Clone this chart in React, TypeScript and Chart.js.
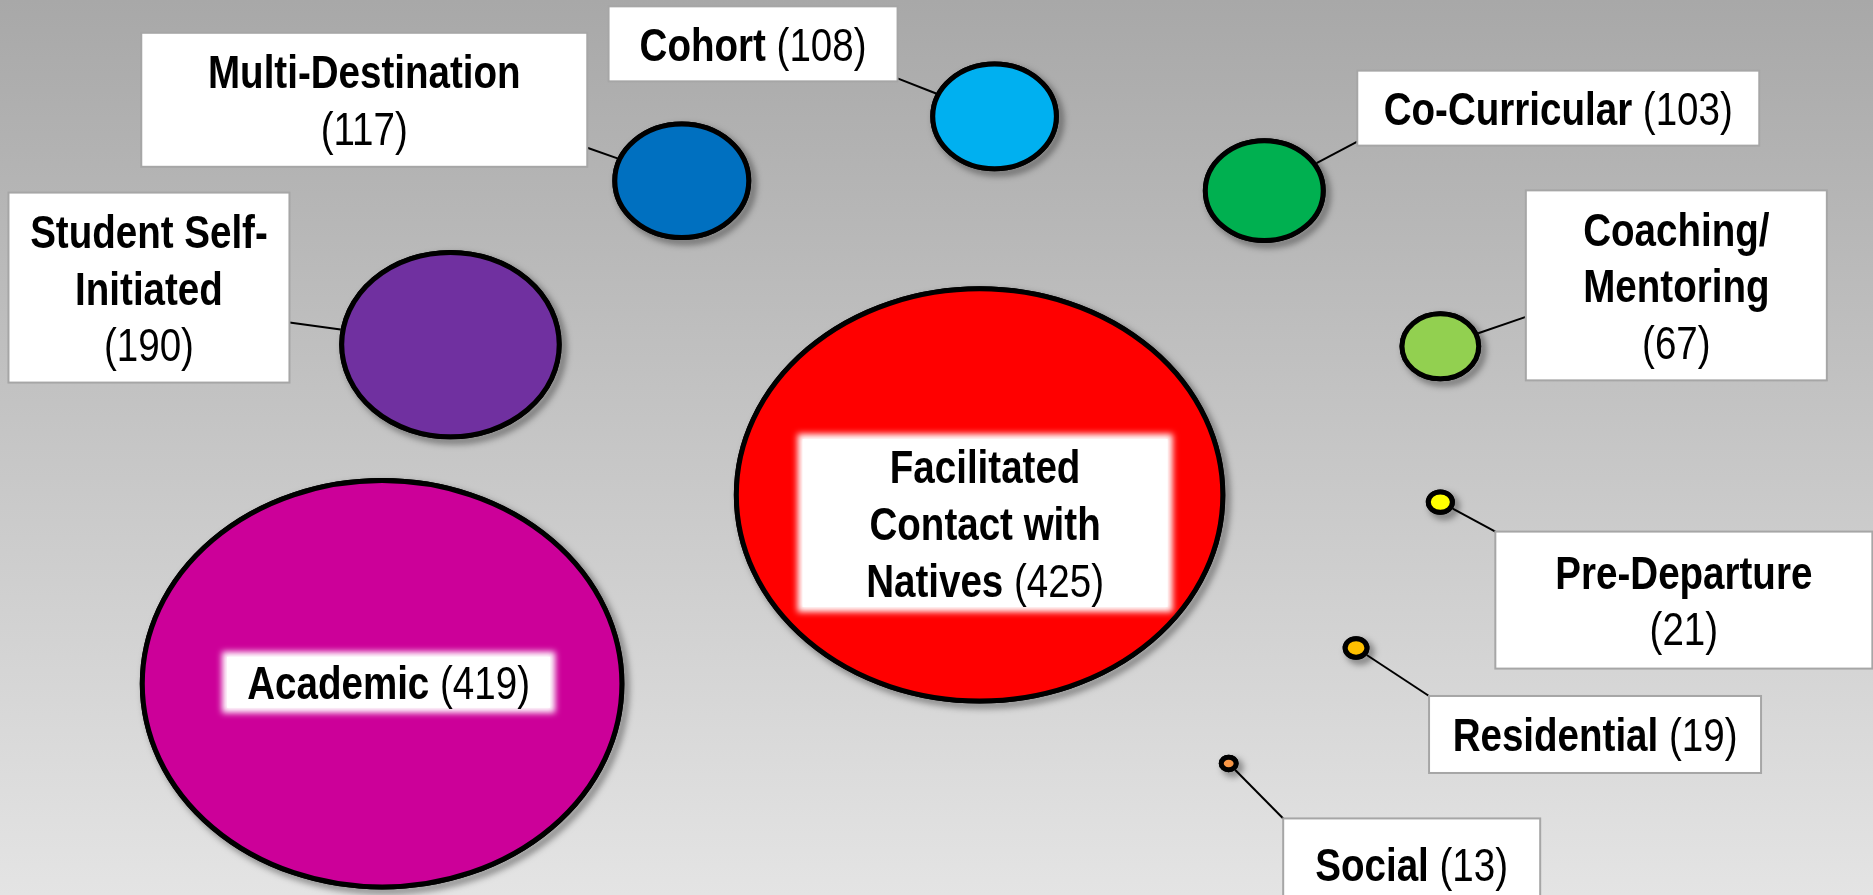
import React, { useEffect, useRef } from "react";
import { Chart, registerables } from "chart.js";

Chart.register(...registerables);

// ---------- data ----------
const categories = [
  "Academic",
  "Facilitated Contact with Natives",
  "Student Self-Initiated",
  "Multi-Destination",
  "Cohort",
  "Co-Curricular",
  "Coaching/Mentoring",
  "Pre-Departure",
  "Residential",
  "Social",
];
const counts = [419, 425, 190, 117, 108, 103, 67, 21, 19, 13];
const xValues = [20.4, 52.3, 24.05, 36.4, 53.1, 67.5, 76.9, 76.9, 72.4, 65.6];
const yValues = [23.6, 44.7, 61.5, 79.8, 87.0, 78.7, 61.3, 43.9, 27.6, 14.7];
const colors = [
  "#CC0099",
  "#FF0000",
  "#7030A0",
  "#0070C0",
  "#00B0F0",
  "#00B050",
  "#92D050",
  "#FFFF00",
  "#FFC000",
  "#F79646",
];
// label text lines ({v} is replaced by the count)
const labelLines = [
  ["Academic ({v})"],
  ["Facilitated", "Contact with", "Natives ({v})"],
  ["Student Self-", "Initiated", "({v})"],
  ["Multi-Destination", "({v})"],
  ["Cohort ({v})"],
  ["Co-Curricular ({v})"],
  ["Coaching/", "Mentoring", "({v})"],
  ["Pre-Departure", "({v})"],
  ["Residential ({v})"],
  ["Social ({v})"],
];

// ---------- layout / style ----------
const W = 1873;
const H = 895;
const SIZE_K = 0.485; // px of vertical radius per unit of count
const ASPECT = 1.18; // horizontal stretch of the bubbles
const BORDER = 5;
const FONT_PX = 47;
const LINE_H = 56.7;
type Box = { dx: number; dy: number; w: number; h: number; glow?: boolean; ax?: number; ay?: number };
const labelBoxes: Box[] = [
  { dx: -160, dy: -32, w: 333, h: 61, glow: true },
  { dx: -182, dy: -61, w: 375, h: 178, glow: true },
  { dx: -442, dy: -152, w: 281, h: 190, ax: 281, ay: 130 },
  { dx: -540.5, dy: -148, w: 446, h: 134, ax: 446, ay: 115 },
  { dx: -386, dy: -110, w: 289, h: 75, ax: 289, ay: 72 },
  { dx: 93, dy: -120, w: 402, h: 75, ax: 0, ay: 71 },
  { dx: 85.5, dy: -156, w: 301, h: 190, ax: 0, ay: 126.5 },
  { dx: 55, dy: 29.5, w: 377, h: 137, ax: 0, ay: 0 },
  { dx: 73, dy: 48, w: 332, h: 77, ax: 0, ay: 0 },
  { dx: 54.5, dy: 55, w: 257, h: 92, ax: 0, ay: 0 },
];

function pickFont(ctx: CanvasRenderingContext2D) {
  ctx.font = `bold ${FONT_PX}px monospace`;
  const w0 = ctx.measureText("Multi-Destination").width;
  ctx.font = `bold ${FONT_PX}px "Liberation Sans Narrow", monospace`;
  const w1 = ctx.measureText("Multi-Destination").width;
  if (Math.abs(w1 - w0) > 1) return { family: '"Liberation Sans Narrow"', sx: 1 };
  return { family: '"Liberation Sans", Arial, sans-serif', sx: 0.82 };
}

function drawLine(
  ctx: CanvasRenderingContext2D,
  text: string,
  cx: number,
  baseline: number,
  font: { family: string; sx: number }
) {
  const segs = text.split(/(\([^)]*\))/).filter((s) => s.length > 0);
  const parts = segs.map((s) => {
    const bold = !s.startsWith("(");
    ctx.font = `${bold ? "bold " : ""}${FONT_PX}px ${font.family}`;
    return { s, bold, w: ctx.measureText(s).width * font.sx };
  });
  const total = parts.reduce((a, p) => a + p.w, 0);
  let x = cx - total / 2;
  ctx.fillStyle = "#000";
  ctx.textBaseline = "alphabetic";
  ctx.textAlign = "left";
  for (const p of parts) {
    ctx.font = `${p.bold ? "bold " : ""}${FONT_PX}px ${font.family}`;
    ctx.save();
    ctx.translate(x, baseline);
    ctx.scale(font.sx, 1);
    ctx.fillText(p.s, 0, 0);
    ctx.restore();
    x += p.w;
  }
}

const bubblePlugin = {
  id: "ellipseBubbles",
  beforeDraw(chart: any) {
    const { ctx, width, height } = chart;
    const g = ctx.createLinearGradient(0, 0, 0, height);
    g.addColorStop(0, "#a8a8a8");
    g.addColorStop(1, "#e4e4e4");
    ctx.save();
    ctx.fillStyle = g;
    ctx.fillRect(0, 0, width, height);
    ctx.restore();
  },
  beforeDatasetDraw(chart: any, args: any) {
    const ctx: CanvasRenderingContext2D = chart.ctx;
    args.meta.data.forEach((el: any) => {
      const { x, y } = el.getProps(["x", "y"], true);
      const r = el.options.radius;
      ctx.save();
      ctx.beginPath();
      ctx.ellipse(x, y, r * ASPECT, r, 0, 0, Math.PI * 2);
      ctx.shadowColor = "rgba(0,0,0,0.55)";
      ctx.shadowBlur = 7;
      ctx.shadowOffsetX = 4;
      ctx.shadowOffsetY = 4;
      ctx.lineWidth = el.options.borderWidth;
      ctx.strokeStyle = el.options.borderColor;
      ctx.stroke();
      ctx.shadowColor = "transparent";
      ctx.fillStyle = el.options.backgroundColor;
      ctx.fill();
      ctx.stroke();
      ctx.restore();
    });
    return false;
  },
  afterDatasetsDraw(chart: any) {
    const ctx: CanvasRenderingContext2D = chart.ctx;
    const meta = chart.getDatasetMeta(0);
    const font = pickFont(ctx);
    meta.data.forEach((el: any, i: number) => {
      const { x, y } = el.getProps(["x", "y"], true);
      const r = el.options.radius;
      const b = labelBoxes[i];
      const bx = x + b.dx;
      const by = y + b.dy;
      // leader line
      if (b.ax !== undefined && b.ay !== undefined) {
        const axp = bx + b.ax;
        const ayp = by + b.ay;
        const ddx = axp - x;
        const ddy = ayp - y;
        const Rx = r * ASPECT + BORDER / 2;
        const Ry = r + BORDER / 2;
        const s = 1 / Math.sqrt((ddx / Rx) ** 2 + (ddy / Ry) ** 2);
        ctx.save();
        ctx.beginPath();
        ctx.moveTo(x + ddx * s, y + ddy * s);
        ctx.lineTo(axp, ayp);
        ctx.strokeStyle = "#000";
        ctx.lineWidth = 2;
        ctx.stroke();
        ctx.restore();
      }
      // box
      ctx.save();
      if (b.glow) {
        ctx.filter = "blur(3px)";
        ctx.fillStyle = "#fff";
        ctx.fillRect(bx, by, b.w, b.h);
        ctx.filter = "none";
        ctx.fillRect(bx + 5, by + 5, b.w - 10, b.h - 10);
      } else {
        ctx.fillStyle = "#fff";
        ctx.fillRect(bx, by, b.w, b.h);
        ctx.strokeStyle = "#a6a6a6";
        ctx.lineWidth = 2;
        ctx.strokeRect(bx, by, b.w, b.h);
      }
      ctx.restore();
      // text
      const lines = labelLines[i].map((l) => l.replace("{v}", String(counts[i])));
      const cx = bx + b.w / 2;
      const cy = by + b.h / 2;
      const first = cy - ((lines.length - 1) * LINE_H) / 2 + 17;
      ctx.save();
      lines.forEach((l, k) => drawLine(ctx, l, cx, first + k * LINE_H, font));
      ctx.restore();
    });
  },
};

export default function App() {
  const ref = useRef<HTMLCanvasElement | null>(null);
  useEffect(() => {
    document.body.style.margin = "0";
    if (!ref.current) return;
    const chart = new Chart(ref.current, {
      type: "bubble",
      data: {
        labels: categories,
        datasets: [
          {
            label: "Activities",
            data: counts.map((c, i) => ({ x: xValues[i], y: yValues[i], r: c * SIZE_K })),
            backgroundColor: colors,
            borderColor: "#000",
            borderWidth: BORDER,
          },
        ],
      },
      options: {
        animation: false,
        responsive: false,
        events: [],
        layout: { padding: 0, autoPadding: false },
        scales: {
          x: { type: "linear", min: 0, max: 100, display: false },
          y: { type: "linear", min: 0, max: 100, display: false },
        },
        plugins: { legend: { display: false }, tooltip: { enabled: false } },
      },
      plugins: [bubblePlugin],
    });
    return () => chart.destroy();
  }, []);
  return (
    <div style={{ width: W, height: H, position: "relative" }}>
      <canvas ref={ref} width={W} height={H} style={{ display: "block", width: W, height: H }} />
    </div>
  );
}
